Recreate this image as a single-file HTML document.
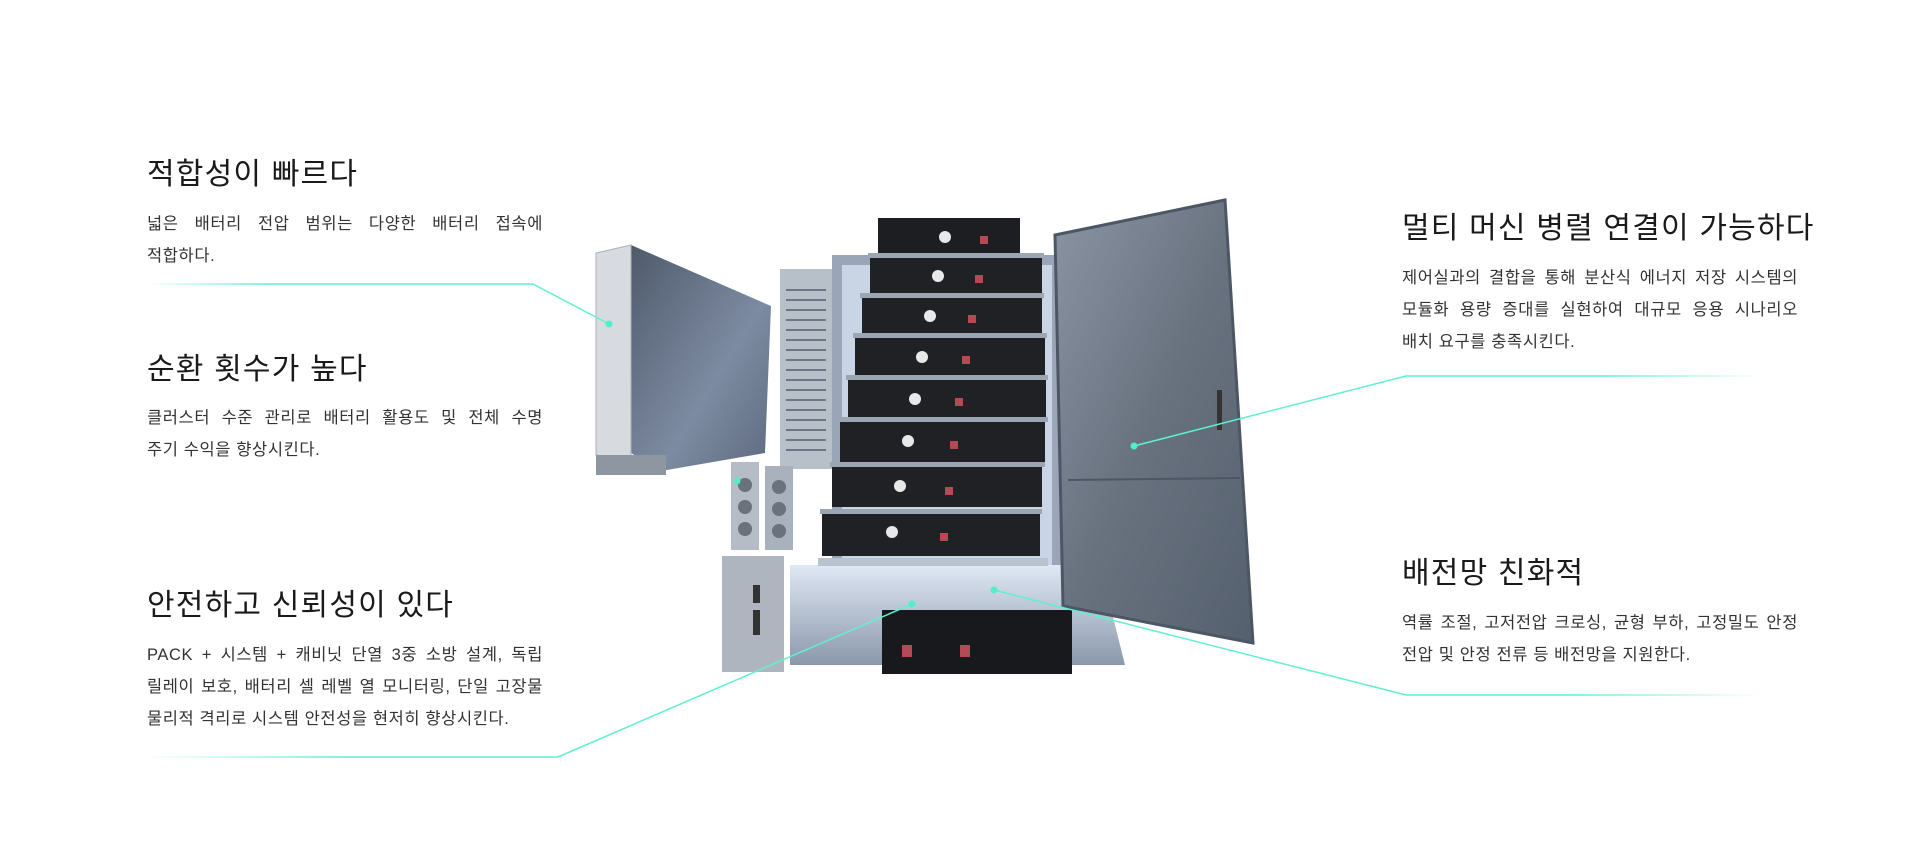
<!DOCTYPE html>
<html><head><meta charset="utf-8">
<style>
html,body{margin:0;padding:0;background:#fff;}
body{width:1920px;height:850px;position:relative;overflow:hidden;font-family:"Liberation Sans","Noto Sans CJK KR",sans-serif;color:#222;}
.t{position:absolute;font-size:30px;line-height:34px;color:#1a1a1a;white-space:nowrap;letter-spacing:1.2px;}
.b{position:absolute;font-size:16.5px;line-height:32px;color:#333;text-align:justify;text-align-last:left;letter-spacing:0.6px;}
.j{text-align-last:justify;}
svg{position:absolute;left:0;top:0;}
</style></head><body>
<svg width="1920" height="850" viewBox="0 0 1920 850">
<defs>
<linearGradient id="gl" x1="0" x2="1" y1="0" y2="0"><stop offset="0" stop-color="#5ef0d0" stop-opacity="0"/><stop offset="0.25" stop-color="#5ef0d0"/><stop offset="1" stop-color="#5ef0d0"/></linearGradient>
<linearGradient id="gr" x1="1" x2="0" y1="0" y2="0"><stop offset="0" stop-color="#5ef0d0" stop-opacity="0"/><stop offset="0.25" stop-color="#5ef0d0"/><stop offset="1" stop-color="#5ef0d0"/></linearGradient>
<linearGradient id="door" x1="0" x2="1" y1="0" y2="1"><stop offset="0" stop-color="#8a94a3"/><stop offset="0.5" stop-color="#68727f"/><stop offset="1" stop-color="#55606e"/></linearGradient>
<linearGradient id="side" x1="0" x2="1" y1="0" y2="1"><stop offset="0" stop-color="#4f5a6b"/><stop offset="0.6" stop-color="#7d8ba2"/><stop offset="1" stop-color="#5d6a7e"/></linearGradient>
<linearGradient id="base" x1="0" x2="0" y1="0" y2="1"><stop offset="0" stop-color="#dfe8f4"/><stop offset="1" stop-color="#8b98ab"/></linearGradient>
</defs>
<polygon points="631,245 771,306 765,453 661,471 631,453" fill="url(#side)"/>
<polygon points="596,253 631,245 631,460 596,455" fill="#d7dbe0" stroke="#aab0b8"/>
<rect x="596" y="455" width="70" height="20" fill="#8d96a1"/>
<rect x="780" y="269" width="52" height="200" fill="#b7bfc9"/>
<g stroke="#6d7684" stroke-width="2">
<line x1="786" y1="290" x2="826" y2="290"/><line x1="786" y1="300" x2="826" y2="300"/><line x1="786" y1="310" x2="826" y2="310"/><line x1="786" y1="320" x2="826" y2="320"/><line x1="786" y1="330" x2="826" y2="330"/><line x1="786" y1="340" x2="826" y2="340"/><line x1="786" y1="350" x2="826" y2="350"/><line x1="786" y1="360" x2="826" y2="360"/><line x1="786" y1="370" x2="826" y2="370"/><line x1="786" y1="380" x2="826" y2="380"/><line x1="786" y1="390" x2="826" y2="390"/><line x1="786" y1="400" x2="826" y2="400"/><line x1="786" y1="410" x2="826" y2="410"/><line x1="786" y1="420" x2="826" y2="420"/><line x1="786" y1="430" x2="826" y2="430"/><line x1="786" y1="440" x2="826" y2="440"/><line x1="786" y1="450" x2="826" y2="450"/>
</g>
<rect x="832" y="255" width="230" height="320" fill="#9aa6b8"/>
<rect x="842" y="265" width="210" height="300" fill="#c9d4e4"/>
<polygon points="790,565 1100,565 1125,665 790,665" fill="url(#base)"/>
<g>
<rect x="878" y="218" width="142" height="38" fill="#1c1e22"/>
<rect x="870" y="256" width="172" height="38" fill="#1f2125"/><rect x="868" y="253" width="176" height="5" fill="#9ca6b3"/>
<rect x="862" y="296" width="180" height="38" fill="#1f2125"/><rect x="860" y="293" width="184" height="5" fill="#9ca6b3"/>
<rect x="855" y="336" width="190" height="40" fill="#1f2125"/><rect x="853" y="333" width="194" height="5" fill="#9ca6b3"/>
<rect x="848" y="378" width="198" height="40" fill="#1f2125"/><rect x="846" y="375" width="202" height="5" fill="#9ca6b3"/>
<rect x="840" y="420" width="205" height="42" fill="#1f2125"/><rect x="838" y="417" width="210" height="5" fill="#9ca6b3"/>
<rect x="832" y="465" width="210" height="42" fill="#1f2125"/><rect x="830" y="462" width="215" height="5" fill="#9ca6b3"/>
<rect x="822" y="512" width="218" height="44" fill="#1f2125"/><rect x="820" y="509" width="222" height="5" fill="#9ca6b3"/>
<rect x="818" y="558" width="230" height="8" fill="#b9c3d0"/>
</g>
<g fill="#e8e8e8"><circle cx="945" cy="237" r="6"/><circle cx="938" cy="276" r="6"/><circle cx="930" cy="316" r="6"/><circle cx="922" cy="357" r="6"/><circle cx="915" cy="399" r="6"/><circle cx="908" cy="441" r="6"/><circle cx="900" cy="486" r="6"/><circle cx="892" cy="532" r="6"/></g>
<g fill="#b54a55"><rect x="980" y="236" width="8" height="8"/><rect x="975" y="275" width="8" height="8"/><rect x="968" y="315" width="8" height="8"/><rect x="962" y="356" width="8" height="8"/><rect x="955" y="398" width="8" height="8"/><rect x="950" y="441" width="8" height="8"/><rect x="945" y="487" width="8" height="8"/><rect x="940" y="533" width="8" height="8"/></g>
<polygon points="1055,235 1225,200 1253,643 1063,606" fill="url(#door)" stroke="#4d5664" stroke-width="3"/>
<line x1="1068" y1="480" x2="1240" y2="478" stroke="#4d5664" stroke-width="2"/>
<rect x="1217" y="390" width="5" height="40" fill="#333"/>
<rect x="731" y="462" width="28" height="88" fill="#b5bcc6"/><rect x="765" y="466" width="28" height="84" fill="#a9b1bc"/>
<g fill="#6a727d"><circle cx="745" cy="485" r="7"/><circle cx="745" cy="507" r="7"/><circle cx="745" cy="529" r="7"/><circle cx="779" cy="487" r="7"/><circle cx="779" cy="509" r="7"/><circle cx="779" cy="531" r="7"/></g>
<rect x="722" y="556" width="62" height="116" fill="#aeb5bf"/><rect x="753" y="585" width="7" height="18" fill="#333"/><rect x="753" y="610" width="7" height="25" fill="#333"/>
<rect x="882" y="610" width="190" height="64" fill="#18191c"/>
<rect x="902" y="645" width="10" height="12" fill="#b54a55"/><rect x="960" y="645" width="10" height="12" fill="#b54a55"/>
<polyline points="147,284 533,284 609,324" fill="none" stroke="url(#gl)" stroke-width="1.5"/>
<line x1="147" y1="481" x2="737" y2="481" stroke="url(#gl)" stroke-width="1.5"/>
<polyline points="147,757 558,757 912,604" fill="none" stroke="url(#gl)" stroke-width="1.5"/>
<polyline points="1763,376 1406,376 1134,446" fill="none" stroke="url(#gr)" stroke-width="1.5"/>
<polyline points="1763,695 1406,695 994,590" fill="none" stroke="url(#gr)" stroke-width="1.5"/>
<g fill="#4ff0c8"><circle cx="609" cy="324" r="3.5"/><circle cx="737" cy="481" r="3.5"/><circle cx="912" cy="604" r="3.5"/><circle cx="1134" cy="446" r="3.5"/><circle cx="994" cy="590" r="3.5"/></g>
</svg>

<div class="t" style="left:147px;top:158px;">적합성이 빠르다</div>
<div class="b" style="left:147px;top:208px;width:396px;"><div class="j">넓은 배터리 전압 범위는 다양한 배터리 접속에</div>적합하다.</div>
<div class="t" style="left:147px;top:353px;">순환 횟수가 높다</div>
<div class="b" style="left:147px;top:402px;width:396px;"><div class="j">클러스터 수준 관리로 배터리 활용도 및 전체 수명</div>주기 수익을 향상시킨다.</div>
<div class="t" style="left:147px;top:589px;">안전하고 신뢰성이 있다</div>
<div class="b" style="left:147px;top:639px;width:396px;"><div class="j">PACK + 시스템 + 캐비닛 단열 3중 소방 설계, 독립</div><div class="j">릴레이 보호, 배터리 셀 레벨 열 모니터링, 단일 고장물</div>물리적 격리로 시스템 안전성을 현저히 향상시킨다.</div>

<div class="t" style="left:1402px;top:212px;">멀티 머신 병렬 연결이 가능하다</div>
<div class="b" style="left:1402px;top:262px;width:396px;"><div class="j">제어실과의 결합을 통해 분산식 에너지 저장 시스템의</div><div class="j">모듈화 용량 증대를 실현하여 대규모 응용 시나리오</div>배치 요구를 충족시킨다.</div>
<div class="t" style="left:1402px;top:557px;">배전망 친화적</div>
<div class="b" style="left:1402px;top:607px;width:396px;"><div class="j">역률 조절, 고저전압 크로싱, 균형 부하, 고정밀도 안정</div>전압 및 안정 전류 등 배전망을 지원한다.</div>
</body></html>
